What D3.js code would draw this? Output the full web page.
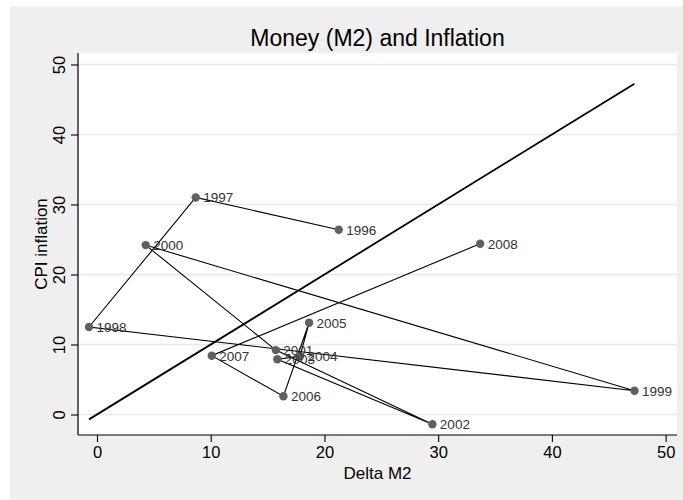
<!DOCTYPE html>
<html>
<head>
<meta charset="utf-8">
<script src="https://cdn.jsdelivr.net/npm/d3@7"></script>
<style>
  body { margin: 0; background: #fff; }
  svg { display: block; font-family: "Liberation Sans", Arial, sans-serif; }
</style>
</head>
<body>
<svg id="chart" width="683" height="500"></svg>
<script>
// years, M2 growth (x) and CPI inflation (y)
const years = [1996, 1997, 1998, 1999, 2000, 2001, 2002, 2003, 2004, 2005, 2006, 2007, 2008];
const deltaM2 = [21.26, 8.68, -0.70, 47.26, 4.28, 15.72, 29.49, 15.86, 17.85, 18.65, 16.39, 10.09, 33.69];
const cpi = [26.4, 31.0, 12.5, 3.4, 24.2, 9.2, -1.4, 7.9, 8.3, 13.1, 2.6, 8.4, 24.4];
const xTicks = [0, 10, 20, 30, 40, 50];
const yTicks = [0, 10, 20, 30, 40, 50];

const data = years.map((yr, i) => ({year: yr, x: deltaM2[i], y: cpi[i]}));

const svg = d3.select("#chart");
const plotL = 78, plotR = 677, plotT = 53, plotB = 435;

// outer grey region
svg.append("rect").attr("x", 10).attr("y", 6).attr("width", 673).attr("height", 494)
  .attr("fill", "#efefef");
svg.append("rect").attr("x", plotL).attr("y", plotT).attr("width", plotR - plotL).attr("height", plotB - plotT)
  .attr("fill", "#fff");

const x = d3.scaleLinear().domain([-1.67, 51.0]).range([plotL, plotR]);
const y = d3.scaleLinear().domain([-2.93, 51.64]).range([plotB, plotT]);

// horizontal grid
svg.append("g").selectAll("line").data(yTicks).join("line")
  .attr("x1", plotL).attr("x2", plotR)
  .attr("y1", d => y(d)).attr("y2", d => y(d))
  .attr("stroke", "#e8e8e8").attr("stroke-width", 1.5);

// 45 degree line over the data range
const xr = d3.extent(deltaM2);
svg.append("line")
  .attr("x1", x(xr[0])).attr("y1", y(xr[0]))
  .attr("x2", x(xr[1])).attr("y2", y(xr[1]))
  .attr("stroke", "#000").attr("stroke-width", 1.8);

// connected in year order
svg.append("path").datum(data)
  .attr("fill", "none").attr("stroke", "#000").attr("stroke-width", 1.1)
  .attr("d", d3.line().x(d => x(d.x)).y(d => y(d.y)));

svg.append("g").selectAll("circle").data(data).join("circle")
  .attr("cx", d => x(d.x)).attr("cy", d => y(d.y)).attr("r", 4.2)
  .attr("fill", "#606060");

svg.append("g").selectAll("text").data(data).join("text")
  .attr("x", d => x(d.x) + 7.5).attr("y", d => y(d.y) + 5)
  .attr("font-size", 13.5).attr("fill", "#333")
  .text(d => d.year);

// axes
const gx = svg.append("g").attr("transform", `translate(0,${plotB})`)
  .call(d3.axisBottom(x).tickValues(xTicks).tickSize(7).tickSizeOuter(0).tickPadding(4));
const gy = svg.append("g").attr("transform", `translate(${plotL},0)`)
  .call(d3.axisLeft(y).tickValues(yTicks).tickSize(7).tickSizeOuter(0));

gx.select(".domain").attr("stroke", "#000").attr("stroke-width", 1.2).attr("d", `M${plotL},0H${plotR}`);
gy.select(".domain").attr("stroke", "#000").attr("stroke-width", 1.2).attr("d", `M0,${plotT}V${plotB}`);
svg.selectAll(".tick line").attr("stroke", "#000").attr("stroke-width", 1.1);
gx.selectAll(".tick text").attr("font-size", 16.5).attr("fill", "#000")
  .attr("font-family", "Liberation Sans, Arial, sans-serif");
gy.selectAll(".tick text")
  .attr("font-size", 16.5).attr("fill", "#000")
  .attr("font-family", "Liberation Sans, Arial, sans-serif")
  .attr("x", null).attr("dy", null)
  .attr("text-anchor", "middle")
  .attr("transform", "translate(-13,0) rotate(-90)");

// titles
svg.append("text").attr("x", (plotL + plotR) / 2).attr("y", 46)
  .attr("text-anchor", "middle").attr("font-size", 23).attr("fill", "#000")
  .text("Money (M2) and Inflation");
svg.append("text").attr("x", (plotL + plotR) / 2).attr("y", 479)
  .attr("text-anchor", "middle").attr("font-size", 17).attr("fill", "#000")
  .text("Delta M2");
svg.append("text").attr("transform", `translate(47,${(plotT + plotB) / 2}) rotate(-90)`)
  .attr("text-anchor", "middle").attr("font-size", 17).attr("fill", "#000")
  .text("CPI inflation");
</script>
</body>
</html>
